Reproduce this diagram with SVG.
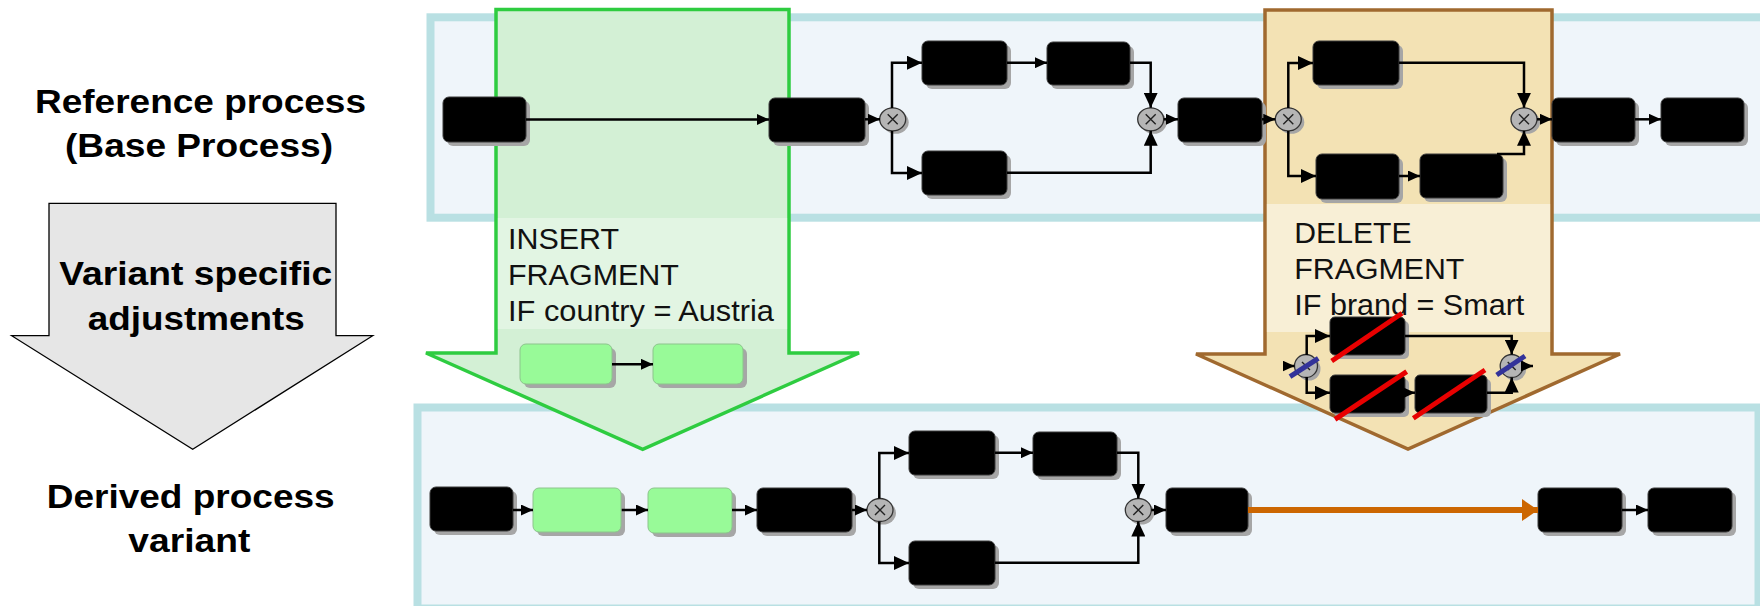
<svg xmlns="http://www.w3.org/2000/svg" width="1760" height="606" viewBox="0 0 1760 606">
<style>
.lane{fill:#EFF5FA;stroke:#B9E0E3;stroke-width:8}
.task{fill:#000;stroke:#3a3a3a;stroke-width:1}
.gtask{fill:#98FA98;stroke:#8cc48c;stroke-width:1}
.sh{fill:#A6A6A6}
.gw{fill:#B5B5B5;stroke:#333;stroke-width:1.3}
.gx{stroke:#222;stroke-width:1.4;fill:none}
.c{fill:none;stroke:#000;stroke-width:2.5}
.lbl{font-family:"Liberation Sans",Arial,sans-serif;font-weight:bold;font-size:33px;fill:#000}
.frag{font-family:"Liberation Sans",Arial,sans-serif;font-size:29.5px;fill:#111}
.red{stroke:#E80000;stroke-width:5}
.blue{stroke:#33339A;stroke-width:5}
</style>
<defs>
<marker id="ah" markerWidth="12" markerHeight="11" refX="12" refY="5.5" orient="auto" markerUnits="userSpaceOnUse"><path d="M0,0 L12,5.5 L0,11 z" fill="#000"/></marker>
<marker id="ahb" markerWidth="15" markerHeight="14" refX="15" refY="7" orient="auto" markerUnits="userSpaceOnUse"><path d="M0,0 L15,7 L0,14 z" fill="#000"/></marker>
<marker id="aho" markerWidth="16" markerHeight="22" refX="16" refY="11" orient="auto" markerUnits="userSpaceOnUse"><path d="M0,0 L16,11 L0,22 z" fill="#CC6600"/></marker>
</defs>

<!-- left labels and gray arrow -->
<g id="label-reference">
<text class="lbl" x="35" y="113.3" textLength="331" lengthAdjust="spacingAndGlyphs">Reference process</text>
<text class="lbl" x="65" y="156.7" textLength="268" lengthAdjust="spacingAndGlyphs">(Base Process)</text>
</g>
<g id="variant-arrow">
<polygon points="49,203.3 336,203.3 336,335.7 372.7,335.7 192.7,449.3 11.7,335.7 49,335.7" fill="#E6E6E6" stroke="#000" stroke-width="1.3"/>
<text class="lbl" x="59.3" y="285" textLength="273" lengthAdjust="spacingAndGlyphs">Variant specific</text>
<text class="lbl" x="87.7" y="330" textLength="217" lengthAdjust="spacingAndGlyphs">adjustments</text>
</g>
<g id="label-derived">
<text class="lbl" x="46.7" y="508.3" textLength="288" lengthAdjust="spacingAndGlyphs">Derived process</text>
<text class="lbl" x="128.3" y="551.7" textLength="122" lengthAdjust="spacingAndGlyphs">variant</text>
</g>

<!-- lanes -->
<g id="lane-reference"><rect class="lane" x="430.5" y="17.3" width="1345" height="200.4"/></g>
<g id="lane-derived"><rect class="lane" x="417.5" y="407.5" width="1341" height="201"/></g>

<!-- insert fragment arrow -->
<g id="insert-fragment">
<polygon points="496,9.5 789,9.5 789,353 859,353 642.7,449.3 426,353 496,353" fill="#D3F0D5" stroke="#2ECC40" stroke-width="3.5" stroke-linejoin="miter"/>
<rect x="497.8" y="218" width="289.4" height="111" fill="#fff" opacity="0.35"/>
<text class="frag" x="508" y="249" textLength="111" lengthAdjust="spacingAndGlyphs">INSERT</text>
<text class="frag" x="508" y="285" textLength="171" lengthAdjust="spacingAndGlyphs">FRAGMENT</text>
<text class="frag" x="508" y="320.7" textLength="266" lengthAdjust="spacingAndGlyphs">IF country = Austria</text>
<rect class="sh" x="524" y="348" width="92" height="40" rx="6"/>
<rect class="gtask" x="520" y="344" width="92" height="40" rx="6"/>
<rect class="sh" x="657" y="348" width="90" height="40" rx="6"/>
<rect class="gtask" x="653" y="344" width="90" height="40" rx="6"/>
<path class="c" d="M612,364.3 H653" marker-end="url(#ah)" stroke-width="2"/>
</g>

<!-- delete fragment arrow -->
<g id="delete-fragment">
<polygon points="1265,10 1552,10 1552,354 1620,354 1408,449 1196,354 1265,354" fill="#F3E2B4" stroke="#A0692F" stroke-width="3.5"/>
<rect x="1266.8" y="204" width="283.4" height="128" fill="#fff" opacity="0.45"/>
<text class="frag" x="1294.3" y="242.7" textLength="117.3" lengthAdjust="spacingAndGlyphs">DELETE</text>
<text class="frag" x="1294.3" y="279" textLength="170" lengthAdjust="spacingAndGlyphs">FRAGMENT</text>
<text class="frag" x="1294.3" y="315" textLength="230" lengthAdjust="spacingAndGlyphs">IF brand = Smart</text>
</g>

<!-- top lane nodes -->
<g id="t-r1"><rect class="sh" x="447" y="101" width="83" height="45" rx="6"/><rect class="task" x="443" y="97" width="83" height="45" rx="6"/></g>
<g id="t-r2"><rect class="sh" x="773" y="102" width="96" height="44" rx="6"/><rect class="task" x="769" y="98" width="96" height="44" rx="6"/></g>
<g id="g-r1"><ellipse class="sh" cx="895.7" cy="122.3" rx="13" ry="11.5"/><ellipse class="gw" cx="892.7" cy="119.3" rx="13" ry="11.5"/><path class="gx" d="M887.7,114.3 l10,10 M897.7,114.3 l-10,10"/></g>
<g id="t-ra"><rect class="sh" x="926" y="45" width="85" height="44" rx="6"/><rect class="task" x="922" y="41" width="85" height="44" rx="6"/></g>
<g id="t-rb"><rect class="sh" x="1051" y="46" width="83" height="43" rx="6"/><rect class="task" x="1047" y="42" width="83" height="43" rx="6"/></g>
<g id="t-rc"><rect class="sh" x="926" y="155" width="85" height="44" rx="6"/><rect class="task" x="922" y="151" width="85" height="44" rx="6"/></g>
<g id="g-r2"><ellipse class="sh" cx="1153.7" cy="122.3" rx="13" ry="11.5"/><ellipse class="gw" cx="1150.7" cy="119.3" rx="13" ry="11.5"/><path class="gx" d="M1145.7,114.3 l10,10 M1155.7,114.3 l-10,10"/></g>
<g id="t-rd"><rect class="sh" x="1182" y="102" width="84" height="44" rx="6"/><rect class="task" x="1178" y="98" width="84" height="44" rx="6"/></g>
<g id="g-r3"><ellipse class="sh" cx="1291.3" cy="122.3" rx="13" ry="11.5"/><ellipse class="gw" cx="1288.3" cy="119.3" rx="13" ry="11.5"/><path class="gx" d="M1283.3,114.3 l10,10 M1293.3,114.3 l-10,10"/></g>
<g id="t-re"><rect class="sh" x="1317" y="45" width="86" height="44" rx="6"/><rect class="task" x="1313" y="41" width="86" height="44" rx="6"/></g>
<g id="t-rf"><rect class="sh" x="1320" y="158" width="83" height="45" rx="6"/><rect class="task" x="1316" y="154" width="83" height="45" rx="6"/></g>
<g id="t-rg"><rect class="sh" x="1424" y="158" width="83" height="44" rx="6"/><rect class="task" x="1420" y="154" width="83" height="44" rx="6"/></g>
<g id="g-r4"><ellipse class="sh" cx="1527" cy="122.3" rx="13" ry="11.5"/><ellipse class="gw" cx="1524" cy="119.3" rx="13" ry="11.5"/><path class="gx" d="M1519,114.3 l10,10 M1529,114.3 l-10,10"/></g>
<g id="t-rh"><rect class="sh" x="1556" y="102" width="83" height="44" rx="6"/><rect class="task" x="1552" y="98" width="83" height="44" rx="6"/></g>
<g id="t-ri"><rect class="sh" x="1665" y="102" width="83" height="44" rx="6"/><rect class="task" x="1661" y="98" width="83" height="44" rx="6"/></g>

<!-- mini delete fragment nodes -->
<g id="g-m1"><ellipse class="sh" cx="1309" cy="369" rx="11.5" ry="11.5"/><ellipse class="gw" cx="1306" cy="366" rx="11.5" ry="11.5"/><path class="gx" d="M1302,362 l8,8 M1310,362 l-8,8"/></g>
<g id="t-m1"><rect class="sh" x="1334" y="321" width="75" height="38" rx="5"/><rect class="task" x="1330" y="317" width="75" height="38" rx="5"/></g>
<g id="t-m2"><rect class="sh" x="1334" y="379" width="75" height="38" rx="5"/><rect class="task" x="1330" y="375" width="75" height="38" rx="5"/></g>
<g id="t-m3"><rect class="sh" x="1419" y="379" width="72" height="38" rx="5"/><rect class="task" x="1415" y="375" width="72" height="38" rx="5"/></g>
<g id="g-m2"><ellipse class="sh" cx="1514.7" cy="369" rx="11.5" ry="11.5"/><ellipse class="gw" cx="1511.7" cy="366" rx="11.5" ry="11.5"/><path class="gx" d="M1507.7,362 l8,8 M1515.7,362 l-8,8"/></g>

<!-- bottom lane nodes -->
<g id="t-d1"><rect class="sh" x="434" y="491" width="83" height="44" rx="6"/><rect class="task" x="430" y="487" width="83" height="44" rx="6"/></g>
<g id="t-dg1"><rect class="sh" x="537" y="492" width="88" height="44" rx="6"/><rect class="gtask" x="533" y="488" width="88" height="44" rx="6"/></g>
<g id="t-dg2"><rect class="sh" x="652" y="492" width="84" height="45" rx="6"/><rect class="gtask" x="648" y="488" width="84" height="45" rx="6"/></g>
<g id="t-d2"><rect class="sh" x="761" y="492" width="95" height="44" rx="6"/><rect class="task" x="757" y="488" width="95" height="44" rx="6"/></g>
<g id="g-d1"><ellipse class="sh" cx="883" cy="513" rx="13" ry="11.5"/><ellipse class="gw" cx="880" cy="510" rx="13" ry="11.5"/><path class="gx" d="M875,505 l10,10 M885,505 l-10,10"/></g>
<g id="t-du1"><rect class="sh" x="913" y="435" width="86" height="44" rx="6"/><rect class="task" x="909" y="431" width="86" height="44" rx="6"/></g>
<g id="t-du2"><rect class="sh" x="1037" y="436" width="84" height="44" rx="6"/><rect class="task" x="1033" y="432" width="84" height="44" rx="6"/></g>
<g id="t-dl1"><rect class="sh" x="913" y="545" width="86" height="44" rx="6"/><rect class="task" x="909" y="541" width="86" height="44" rx="6"/></g>
<g id="g-d2"><ellipse class="sh" cx="1141.3" cy="513" rx="13" ry="11.5"/><ellipse class="gw" cx="1138.3" cy="510" rx="13" ry="11.5"/><path class="gx" d="M1133.3,505 l10,10 M1143.3,505 l-10,10"/></g>
<g id="t-dv"><rect class="sh" x="1170" y="492" width="82" height="44" rx="6"/><rect class="task" x="1166" y="488" width="82" height="44" rx="6"/></g>
<g id="t-dx"><rect class="sh" x="1542" y="492" width="84" height="44" rx="6"/><rect class="task" x="1538" y="488" width="84" height="44" rx="6"/></g>
<g id="t-dy"><rect class="sh" x="1652" y="492" width="84" height="44" rx="6"/><rect class="task" x="1648" y="488" width="84" height="44" rx="6"/></g>

<!-- connectors -->
<g id="connectors">
<path class="c" d="M526,119.5 H769" marker-end="url(#ah)"/>
<path class="c" d="M865,119.3 H880" marker-end="url(#ah)"/>
<path class="c" d="M892,108 V62.7 H922" marker-end="url(#ahb)"/>
<path class="c" d="M892,131 V173 H922" marker-end="url(#ahb)"/>
<path class="c" d="M1007,62.7 H1047" marker-end="url(#ah)"/>
<path class="c" d="M1130,62.7 H1150.7 V107.8" marker-end="url(#ahb)"/>
<path class="c" d="M1007,172.7 H1150.7 V130.8" marker-end="url(#ahb)"/>
<path class="c" d="M1163.7,119.3 H1178" marker-end="url(#ah)"/>
<path class="c" d="M1262,119.3 H1275.3" marker-end="url(#ah)"/>
<path class="c" d="M1288.3,108 V63 H1313" marker-end="url(#ahb)"/>
<path class="c" d="M1288.3,131 V176 H1316" marker-end="url(#ahb)"/>
<path class="c" d="M1399,62.7 H1524 V107.8" marker-end="url(#ahb)"/>
<path class="c" d="M1399,176 H1420" marker-end="url(#ah)"/>
<path class="c" d="M1497,154 H1524 V130.8" marker-end="url(#ahb)"/>
<path class="c" d="M1537,119.3 H1552" marker-end="url(#ah)"/>
<path class="c" d="M1635,119.3 H1661" marker-end="url(#ah)"/>

<path class="c" d="M1284,366 H1294.5" marker-end="url(#ah)" stroke-width="2"/>
<path class="c" d="M1306.7,355 V336 H1330" marker-end="url(#ahb)" stroke-width="2"/>
<path class="c" d="M1306.7,377 V392.7 H1330" marker-end="url(#ahb)" stroke-width="2"/>
<path class="c" d="M1405,336 H1511.7 V354.5" marker-end="url(#ahb)" stroke-width="2"/>
<path class="c" d="M1405,392.7 H1415" marker-end="url(#ah)" stroke-width="2"/>
<path class="c" d="M1487,392.7 H1511.7 V377.5" marker-end="url(#ahb)" stroke-width="2"/>
<path class="c" d="M1523.2,366 H1533" marker-end="url(#ah)" stroke-width="2"/>

<path class="c" d="M513,510 H533" marker-end="url(#ah)"/>
<path class="c" d="M621.7,510 H648" marker-end="url(#ah)"/>
<path class="c" d="M732,510 H757" marker-end="url(#ah)"/>
<path class="c" d="M852,510 H867" marker-end="url(#ah)"/>
<path class="c" d="M879.3,498.5 V453 H909" marker-end="url(#ahb)"/>
<path class="c" d="M879.3,521.5 V563 H909" marker-end="url(#ahb)"/>
<path class="c" d="M995,452.7 H1033" marker-end="url(#ah)"/>
<path class="c" d="M1117,452.7 H1138.3 V498.5" marker-end="url(#ahb)"/>
<path class="c" d="M995,562.7 H1138.3 V521.5" marker-end="url(#ahb)"/>
<path class="c" d="M1151.3,510 H1166" marker-end="url(#ah)"/>
<path d="M1248,510 H1538" fill="none" stroke="#CC6600" stroke-width="6" marker-end="url(#aho)"/>
<path class="c" d="M1622,510 H1648" marker-end="url(#ah)"/>
</g>

<!-- strike-through marks -->
<g id="delete-marks">
<line class="red" x1="1331.7" y1="361" x2="1402" y2="313.3"/>
<line class="red" x1="1335" y1="419.3" x2="1406.7" y2="371.7"/>
<line class="red" x1="1413.3" y1="418.3" x2="1485" y2="370"/>
<line class="blue" x1="1290" y1="376.7" x2="1318.3" y2="358.3"/>
<line class="blue" x1="1496.7" y1="375" x2="1525" y2="356"/>
</g>
</svg>
